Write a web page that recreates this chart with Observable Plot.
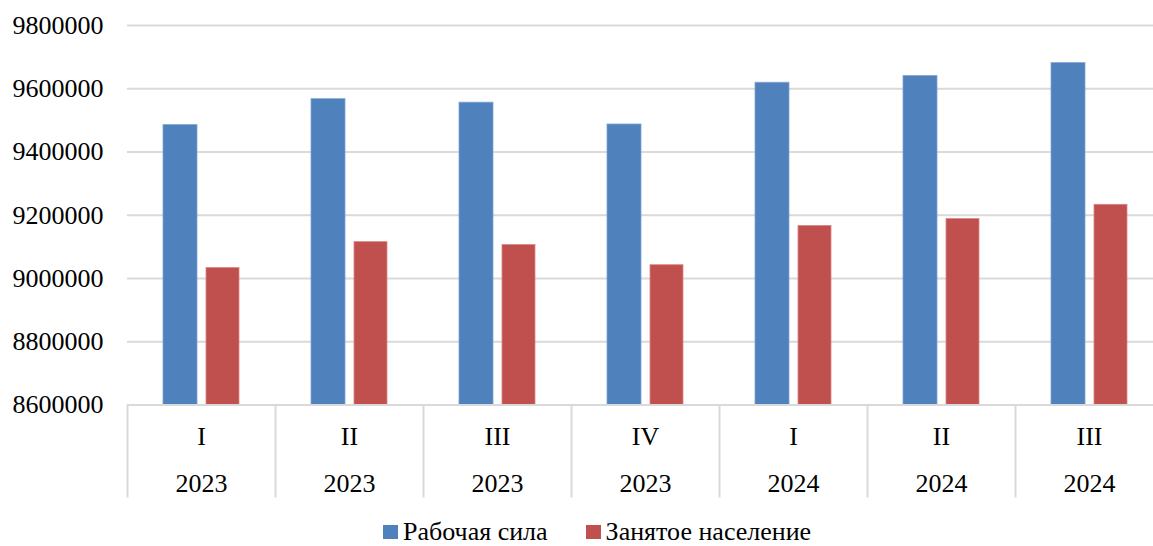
<!DOCTYPE html>
<html>
<head>
<meta charset="utf-8">
<script src="https://cdn.jsdelivr.net/npm/d3@7"></script>
<script src="https://cdn.jsdelivr.net/npm/@observablehq/plot@0.6"></script>
<style>
  html, body { margin: 0; padding: 0; background: #fff; }
  #chart svg { display: block; }
  .legend { height: 32px; display: flex; align-items: flex-end; padding-left: 383px; line-height: 29px;
    font-family: "Liberation Serif", "Times New Roman", serif; font-size: 26px; color: #000; overflow: visible; }
  .legend .item { display: flex; align-items: center; }
  .legend .sw { width: 15px; height: 14px; margin-right: 5px; }
</style>
</head>
<body>
<div id="chart"></div>
<script>
const quarters = ["I", "II", "III", "IV", "I", "II", "III"];
const years = ["2023", "2023", "2023", "2023", "2024", "2024", "2024"];
const seriesNames = ["Рабочая сила", "Занятое население"];
const labor = [9485000, 9567000, 9556000, 9487000, 9619000, 9640000, 9681000];
const employed = [9033000, 9115000, 9106000, 9042000, 9166000, 9188000, 9233000];
const yTicks = [8600000, 8800000, 9000000, 9200000, 9400000, 9600000, 9800000];
const colors = ["#4f81bd", "#c0504d"];

const keys = quarters.map((q, i) => String(i));
const rows = keys.map((k, i) => ({key: k, quarter: quarters[i], year: years[i], labor: labor[i], employed: employed[i]}));

const font = "'Liberation Serif', 'Times New Roman', serif";

const chart = Plot.plot({
  width: 1153,
  height: 514,
  marginLeft: 127,
  marginRight: -10,
  marginTop: 25,
  marginBottom: 109.5,
  style: {fontFamily: font, fontSize: "26px", color: "#000", background: "#fff"},
  x: {type: "band", domain: keys, padding: 0, axis: null},
  y: {domain: [yTicks[0], yTicks[yTicks.length - 1]], axis: null},
  marks: [
    Plot.gridY(yTicks, {stroke: "#d9d9d9", strokeOpacity: 1, strokeWidth: 2}),
    Plot.barY(rows, {x: "key", y1: yTicks[0], y2: "labor", fill: colors[0], stroke: "#7fa3d3", strokeWidth: 0.8, insetLeft: 36, insetRight: 78}),
    Plot.barY(rows, {x: "key", y1: yTicks[0], y2: "employed", fill: colors[1], stroke: "#d98684", strokeWidth: 0.8, insetLeft: 79, insetRight: 36}),
    Plot.ruleY([yTicks[0]], {stroke: "#d9d9d9", strokeWidth: 2}),
    Plot.ruleX(rows, {x: "key", y1: yTicks[0], y2: yTicks[0], dx: -74, insetBottom: -93, stroke: "#d9d9d9", strokeWidth: 2}),
    Plot.axisY(yTicks, {tickSize: 0, tickPadding: 24, tickFormat: d => String(d), fontSize: 26, fontFamily: font, fill: "#000"}),
    Plot.text(rows, {x: "key", frameAnchor: "bottom", lineAnchor: "middle", dy: 32, text: "quarter", fontSize: 26, fontFamily: font, fill: "#000"}),
    Plot.text(rows, {x: "key", frameAnchor: "bottom", lineAnchor: "middle", dy: 79, text: "year", fontSize: 26, fontFamily: font, fill: "#000"})
  ]
});
document.getElementById("chart").appendChild(chart);

const legend = document.createElement("div");
legend.className = "legend";
seriesNames.forEach((name, i) => {
  const item = document.createElement("div");
  item.className = "item";
  if (i > 0) item.style.marginLeft = "38px";
  const sw = document.createElement("span");
  sw.className = "sw";
  sw.style.background = colors[i];
  const label = document.createElement("span");
  label.textContent = name;
  item.appendChild(sw);
  item.appendChild(label);
  legend.appendChild(item);
});
document.body.appendChild(legend);
</script>
</body>
</html>
